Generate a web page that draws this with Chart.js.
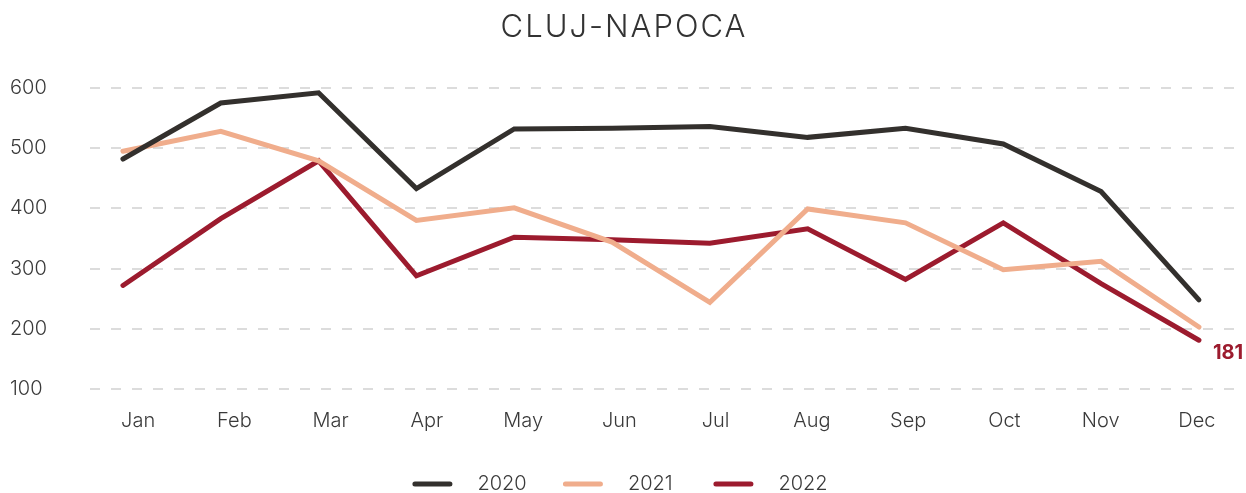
<!DOCTYPE html>
<html>
<head>
<meta charset="utf-8">
<script src="https://cdn.jsdelivr.net/npm/chart.js@4.4.1/dist/chart.umd.min.js"></script>
<style>
  html, body { margin: 0; padding: 0; background: #fff; }
  #wrap { width: 1246px; height: 493px; position: relative; }
</style>
</head>
<body>
<div id="wrap"><canvas id="myChart"></canvas></div>
<script>
const chartTitle = "CLUJ-NAPOCA";
const months = ["Jan", "Feb", "Mar", "Apr", "May", "Jun", "Jul", "Aug", "Sep", "Oct", "Nov", "Dec"];
const seriesNames = ["2020", "2021", "2022"];
const values2020 = [482, 575, 592, 433, 532, 533, 536, 518, 533, 507, 428, 248];
const values2021 = [495, 528, 479, 380, 401, 344, 244, 399, 376, 298, 312, 203];
const values2022 = [272, 383, 479, 288, 352, 348, 342, 366, 282, 376, 275, 181];
const yTicks = [100, 200, 300, 400, 500, 600];

const colors = ["#33302d", "#f0ad8c", "#9c1b2e"];
const fontFamily = "Inter, 'Noto Sans', sans-serif";
const textColor = "#3a3a3a";

const toPoints = (values) => values.map((v, i) => ({ x: i, y: v }));

const titlePlugin = {
  id: "spacedTitle",
  afterDraw(chart) {
    const { ctx } = chart;
    ctx.save();
    ctx.font = `300 31px ${fontFamily}`;
    ctx.letterSpacing = "2px";
    ctx.fillStyle = "#333";
    ctx.textAlign = "center";
    ctx.textBaseline = "middle";
    ctx.fillText(chartTitle, chart.width / 2 + 1, 28);
    ctx.restore();
  },
};

// value label at the end of the 2022 line
const endLabelPlugin = {
  id: "endLabel",
  afterDatasetsDraw(chart) {
    const { ctx } = chart;
    const meta = chart.getDatasetMeta(2);
    const last = meta.data[meta.data.length - 1];
    ctx.save();
    ctx.font = `bold 20px ${fontFamily}`;
    ctx.fillStyle = colors[2];
    ctx.textAlign = "left";
    ctx.textBaseline = "middle";
    ctx.fillText(String(values2022[values2022.length - 1]), last.x + 14, last.y + 13);
    ctx.restore();
  },
};

// legend: short thick line + label, items evenly spaced
const legendPlugin = {
  id: "lineLegend",
  afterDraw(chart) {
    const { ctx } = chart;
    const step = 150.5;
    const y = 484;
    ctx.save();
    ctx.font = `300 20px ${fontFamily}`;
    const lastW = ctx.measureText(seriesNames[seriesNames.length - 1]).width;
    const span = step * (seriesNames.length - 1) + 65 + lastW;
    let x = chart.width / 2 - 3 - span / 2;
    seriesNames.forEach((name, i) => {
      ctx.strokeStyle = colors[i];
      ctx.lineWidth = 5;
      ctx.lineCap = "round";
      ctx.beginPath();
      ctx.moveTo(x + 2.5, y);
      ctx.lineTo(x + 37.5, y);
      ctx.stroke();
      ctx.fillStyle = textColor;
      ctx.textAlign = "left";
      ctx.textBaseline = "middle";
      ctx.fillText(name, x + 65, y);
      x += step;
    });
    ctx.restore();
  },
};

const lineStyle = (i) => ({
  label: seriesNames[i],
  borderColor: colors[i],
  backgroundColor: colors[i],
  borderWidth: 5,
  borderCapStyle: "round",
  pointRadius: 0,
  tension: 0,
  xAxisID: "xd",
  yAxisID: "y",
});

new Chart(document.getElementById("myChart"), {
  type: "line",
  data: {
    labels: months,
    datasets: [
      { ...lineStyle(0), data: toPoints(values2020) },
      { ...lineStyle(1), data: toPoints(values2021) },
      { ...lineStyle(2), data: toPoints(values2022) },
    ],
  },
  options: {
    responsive: true,
    maintainAspectRatio: false,
    animation: false,
    layout: {
      padding: { top: 88, left: 10, right: 1, bottom: 0 },
    },
    scales: {
      x: {
        type: "category",
        offset: true,
        grid: { display: false, drawTicks: false },
        border: { display: false },
        ticks: {
          color: textColor,
          font: { family: fontFamily, size: 20, weight: 300 },
          padding: 20,
        },
        afterFit(scale) {
          scale.height += 40; // room for the legend
        },
      },
      xd: {
        type: "linear",
        display: false,
        min: -0.337,
        max: 11.471,
      },
      y: {
        min: yTicks[0],
        max: yTicks[yTicks.length - 1],
        afterBuildTicks(scale) {
          scale.ticks = yTicks.map((v) => ({ value: v }));
        },
        grid: { color: "#dcdcdc", lineWidth: 2, drawTicks: false },
        border: { display: false, dash: [10, 11] },
        ticks: {
          color: textColor,
          crossAlign: "far",
          font: { family: fontFamily, size: 20, weight: 300 },
        },
        afterFit(scale) {
          scale.width = 80;
        },
      },
    },
    plugins: {
      title: { display: false },
      legend: { display: false },
      tooltip: { enabled: false },
    },
  },
  plugins: [titlePlugin, endLabelPlugin, legendPlugin],
});
</script>
</body>
</html>
